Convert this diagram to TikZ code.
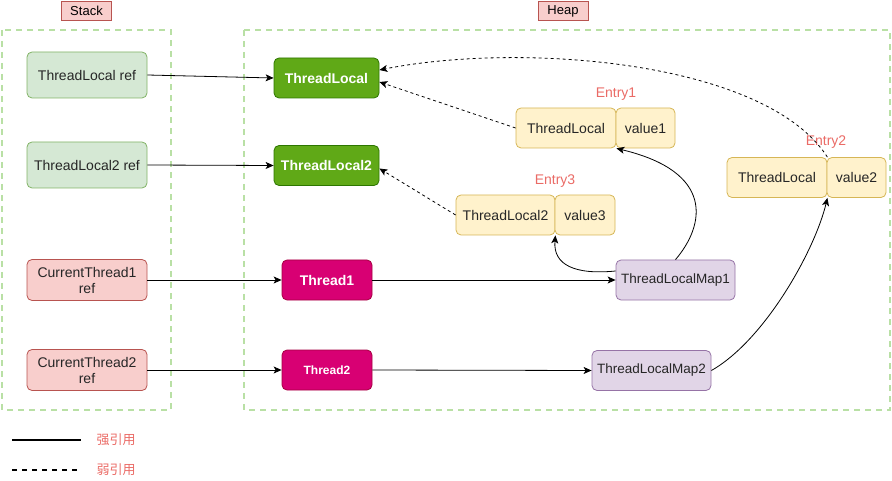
\documentclass[tikz,border=0pt]{standalone}
\usepackage{fontspec}
\setmainfont{Liberation Sans}
\newfontfamily\cjk{Noto Sans CJK SC}
\usetikzlibrary{arrows.meta}
\definecolor{pinkfill}{HTML}{F8CECC}
\definecolor{pinkline}{HTML}{B85450}
\definecolor{arealine}{HTML}{B9E0A5}
\definecolor{reffill}{HTML}{D5E8D4}
\definecolor{refline}{HTML}{82B366}
\definecolor{tlfill}{HTML}{60A917}
\definecolor{tlline}{HTML}{2D7600}
\definecolor{thfill}{HTML}{D80073}
\definecolor{thline}{HTML}{A50040}
\definecolor{entryfill}{HTML}{FFF2CC}
\definecolor{entryline}{HTML}{D6B656}
\definecolor{mapfill}{HTML}{E1D5E7}
\definecolor{mapline}{HTML}{9673A6}
\definecolor{labelred}{HTML}{EA6B66}
\begin{document}
\begin{tikzpicture}
    [
    x=1pt, y=-1pt,
    box/.style={
      draw,
      line width=0.8pt,
      rounded corners=5pt,
      inner sep=0pt,
      align=center,
      text=black!85,
      font=\fontsize{14}{16}\selectfont
    },
    title/.style={
      draw=pinkline,
      fill=pinkfill,
      line width=0.8pt,
      minimum width=50pt,
      minimum height=19pt,
      inner sep=0pt,
      font=\fontsize{13}{15}\selectfont
    },
    area/.style={
      draw=arealine,
      line width=1.5pt,
      dash pattern=on 6pt off 5pt
    },
    refbox/.style={box, fill=reffill, draw=refline, minimum width=120pt, minimum height=46pt},
    curbox/.style={box, fill=pinkfill, draw=pinkline, minimum width=120pt, minimum height=41pt},
    tlbox/.style={box, fill=tlfill, draw=tlline, text=white, font=\fontsize{14}{16}\selectfont\bfseries,
      minimum width=105pt, minimum height=40pt},
    thbox/.style={box, fill=thfill, draw=thline, text=white, font=\fontsize{14}{16}\selectfont\bfseries,
      minimum width=90pt, minimum height=40pt},
    keybox/.style={box, fill=entryfill, draw=entryline, minimum width=100pt, minimum height=40pt},
    valbox/.style={box, fill=entryfill, draw=entryline, minimum width=59pt, minimum height=40pt},
    mapbox/.style={box, fill=mapfill, draw=mapline, minimum width=119pt, minimum height=40pt,
      font=\fontsize{13.5}{16}\selectfont},
    entrylabel/.style={text=labelred, font=\fontsize{14}{16}\selectfont},
    strong/.style={-{Stealth[length=8pt,width=7pt,inset=2pt]}, line width=0.8pt},
    weak/.style={strong, dash pattern=on 3pt off 3pt}
    ]
    \useasboundingbox (0,0) rectangle (892,481);

    % areas
    \draw[area] (2,30) rectangle (171,410);
    \draw[area] (244,30) rectangle (890,410);
    \node at (86.5,11) [title] (stack) {Stack};
    \node at (563,11) [title] (heap) {Heap};

    % stack
    \node at (87,75) [refbox] (tlref) {ThreadLocal ref};
    \node at (87,165) [refbox] (tltworef) {ThreadLocal2 ref};
    \node at (87,280) [curbox] (curone) {CurrentThread1\\ref};
    \node at (87,370) [curbox] (curtwo) {CurrentThread2\\ref};

    % heap
    \node at (326.5,78) [tlbox] (tl) {ThreadLocal};
    \node at (326.5,165.5) [tlbox] (tltwo) {ThreadLocal2};
    \node at (327,280) [thbox] (thone) {Thread1};
    \node at (327,370) [thbox, font=\fontsize{12}{14}\selectfont\bfseries] (thtwo) {Thread2};
    \node at (675.5,280) [mapbox] (mapone) {ThreadLocalMap1};
    \node at (651.5,370.5) [mapbox] (maptwo) {ThreadLocalMap2};

    \node at (566,128) [keybox] (eonekey) {ThreadLocal};
    \node at (645.5,128) [valbox] (eoneval) {value1};
    \node at (616,94) [entrylabel] (eonelabel) {Entry1};
    \node at (777,177.5) [keybox] (etwokey) {ThreadLocal};
    \node at (856.5,177.5) [valbox] (etwoval) {value2};
    \node at (826,142) [entrylabel] (etwolabel) {Entry2};
    \node at (505.5,215) [keybox, minimum width=99pt] (ethreekey) {ThreadLocal2};
    \node at (585,215) [valbox, minimum width=60pt] (ethreeval) {value3};
    \node at (555,181) [entrylabel] (ethreelabel) {Entry3};

    % strong references
    \draw[strong] (tlref.east) -- (tl.west);
    \draw[strong] (tltworef.east) -- (tltwo.west);
    \draw[strong] (curone.east) -- (thone.west);
    \draw[strong] (curtwo.east) -- (thtwo.west);
    \draw[strong] (thone.east) -- (mapone.west);
    \draw[strong] (thtwo.east) -- (maptwo.west);
    \draw[strong] (mapone.north) .. controls (705,225) and (715,172) .. (eonekey.south east);
    \draw[strong] ([yshift=9pt]mapone.west) .. controls (575,275) and (553,265) .. (ethreekey.south east);
    \draw[strong] (maptwo.east) .. controls (765,340) and (815,250) .. (etwokey.south east);

    % weak references
    \draw[weak] (eonekey.west) -- ([yshift=-4pt]tl.east);
    \draw[weak] (ethreekey.west) -- ([yshift=-3pt]tltwo.east);
    \draw[weak] (etwokey.north east) .. controls (765,60) and (520,42) .. ([yshift=8pt]tl.east);

    % legend
    \coordinate (solidstart) at (12,440);
    \coordinate (solidend) at (81,440);
    \coordinate (dashstart) at (12,470);
    \coordinate (dashend) at (81,470);
    \draw[line width=1.5pt] (solidstart) -- (solidend);
    \draw[line width=1.5pt, dash pattern=on 5pt off 5pt] (dashstart) -- (dashend);
    \node at (116,440) [text=labelred, font=\cjk\fontsize{13}{15}\selectfont] (stronglabel) {强引用};
    \node at (116,470) [text=labelred, font=\cjk\fontsize{13}{15}\selectfont] (weaklabel) {弱引用};
  \end{tikzpicture}
\end{document}
